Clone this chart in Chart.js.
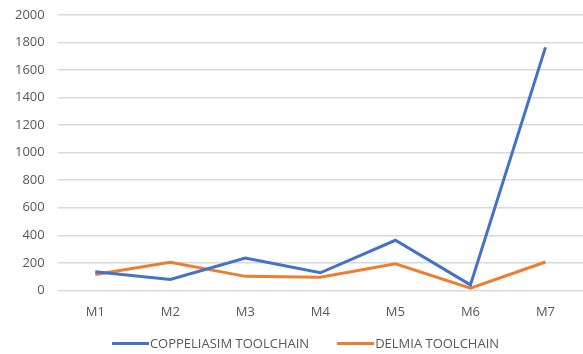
<!DOCTYPE html>
<html>
<head>
<meta charset="utf-8">
<script src="https://cdn.jsdelivr.net/npm/chart.js@4"></script>
<style>
  html, body { margin: 0; padding: 0; background: #fff; }
  #wrap { position: relative; width: 583px; height: 354px; }
  #legend {
    position: absolute; left: 0; top: 334px; width: 583px; height: 18px;
    display: flex; justify-content: center; align-items: center;
    padding-left: 28px; box-sizing: border-box;
    font-family: 'Open Sans', sans-serif; font-size: 13px; color: #595959;
  }
  .item { display: flex; align-items: center; margin: 0 14px; white-space: nowrap; }
  .swatch { width: 37px; height: 3px; margin-right: 1px; }
</style>
</head>
<body>
<div id="wrap"><canvas id="myChart"></canvas><div id="legend"></div></div>
<script>
const labels = ['M1', 'M2', 'M3', 'M4', 'M5', 'M6', 'M7'];
const coppeliasim = [135, 80, 235, 128, 364, 40, 1765];
const delmia = [115, 205, 102, 95, 193, 17, 206];

const ctx = document.getElementById('myChart');

const chart = new Chart(ctx, {
    type: 'line',
    data: {
        labels: labels,
        datasets: [
            {
                label: 'COPPELIASIM TOOLCHAIN',
                data: coppeliasim,
                borderColor: '#4472C4',
                backgroundColor: '#4472C4',
                borderWidth: 3,
                pointRadius: 0,
                tension: 0,
            },
            {
                label: 'DELMIA TOOLCHAIN',
                data: delmia,
                borderColor: '#ED7D31',
                backgroundColor: '#ED7D31',
                borderWidth: 3,
                pointRadius: 0,
                tension: 0,
            },
        ],
    },
    options: {
        responsive: true,
        maintainAspectRatio: false,
        animation: false,
        layout: {
            padding: { left: 2, right: -4, top: 0, bottom: 28 }
        },
        plugins: {
            legend: { display: false },
            tooltip: { enabled: false }
        },
        scales: {
            x: {
                offset: true,
                grid: { display: false },
                border: { display: false },
                ticks: {
                    color: '#595959',
                    padding: 6,
                    font: { family: 'Open Sans', size: 13 }
                }
            },
            y: {
                min: 0,
                max: 2000,
                grid: { color: '#D9D9D9', lineWidth: 1.5, drawTicks: false },
                border: { display: false },
                afterFit: (scale) => { scale.paddingTop = 15; },
                ticks: {
                    stepSize: 200,
                    color: '#595959',
                    padding: 13,
                    font: { family: 'Open Sans', size: 13 },
                    callback: (v) => String(v)
                }
            }
        }
    }
});

// legend built from the datasets
const legendEl = document.getElementById('legend');
chart.data.datasets.forEach(ds => {
    const item = document.createElement('div');
    item.className = 'item';
    const sw = document.createElement('span');
    sw.className = 'swatch';
    sw.style.background = ds.borderColor;
    const txt = document.createElement('span');
    txt.textContent = ds.label;
    item.appendChild(sw);
    item.appendChild(txt);
    legendEl.appendChild(item);
});
</script>
</body>
</html>
